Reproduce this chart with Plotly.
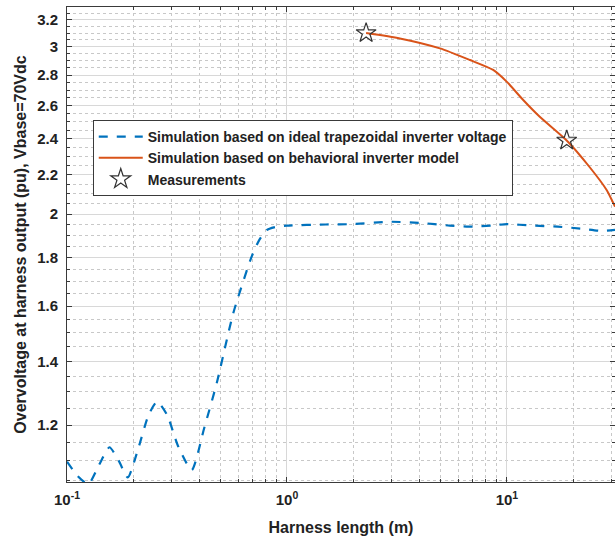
import plotly.graph_objects as go
import numpy as np

# Ideal trapezoidal inverter voltage simulation
ideal_x = [0.1, 0.112, 0.125, 0.14, 0.156, 0.172, 0.189, 0.21, 0.235, 0.257, 0.285, 0.32, 0.369,
           0.42, 0.479, 0.57, 0.691, 0.75, 0.808, 0.9, 1.0, 1.5, 2.0, 2.9, 4.0, 5.5, 7.0, 8.5,
           10.0, 13.0, 17.0, 22.0, 27.0, 31.0]
ideal_y = [1.098, 1.06, 1.04, 1.09, 1.137, 1.10, 1.057, 1.13, 1.23, 1.27, 1.23, 1.14, 1.076,
           1.19, 1.327, 1.573, 1.804, 1.88, 1.924, 1.94, 1.945, 1.95, 1.952, 1.963, 1.958, 1.945,
           1.94, 1.945, 1.952, 1.945, 1.94, 1.93, 1.92, 1.925]

# Behavioral inverter model simulation
behav_x = [2.29, 3.26, 4.96, 6.79, 8.66, 9.97, 11.86, 14.1, 18.7, 23.8, 28.4, 31.0]
behav_y = [3.10, 3.06, 2.987, 2.904, 2.835, 2.756, 2.636, 2.531, 2.39, 2.24, 2.12, 2.036]

# Measurements
meas_x = [2.29, 18.7]
meas_y = [3.10, 2.39]

x_tickvals = [0.1, 1, 10]
x_ticktext = ["10<sup>-1</sup>", "10<sup>0</sup>", "10<sup>1</sup>"]
y_tickvals = [1.2, 1.4, 1.6, 1.8, 2.0, 2.2, 2.4, 2.6, 2.8, 3.0, 3.2]
y_ticktext = ["1.2", "1.4", "1.6", "1.8", "2", "2.2", "2.4", "2.6", "2.8", "3", "3.2"]

x_minor = [m * d for d in (0.1, 1, 10) for m in range(2, 10)]
y_minor = [round(1.05 + 0.05 * i, 2) for i in range(46)]
y_minor = [v for v in y_minor if v not in y_tickvals]

FONT = "Liberation Sans, Arial, sans-serif"
TXT = "#222222"

fig = go.Figure()
fig.add_trace(go.Scatter(
    x=ideal_x, y=ideal_y, mode="lines",
    name="Simulation based on ideal trapezoidal inverter voltage",
    line=dict(color="#0072BD", width=2.2, dash="dash", shape="spline", smoothing=0.6),
))
fig.add_trace(go.Scatter(
    x=behav_x, y=behav_y, mode="lines",
    name="Simulation based on behavioral inverter model",
    line=dict(color="#D95319", width=2, shape="spline", smoothing=0.6),
))
fig.add_trace(go.Scatter(
    x=meas_x, y=meas_y, mode="markers", name="Measurements",
    marker=dict(symbol="star-open", size=15, color="#333333", line=dict(width=1.2, color="#333333")),
))

axis_common = dict(
    showline=True, linecolor="#3a3a3a", linewidth=1, mirror="ticks",
    ticks="inside", ticklen=5, tickcolor="#3a3a3a",
    showgrid=True, gridcolor="#d8d8d8", gridwidth=1,
    zeroline=False, automargin=False,
    tickfont=dict(family=FONT, size=15, color=TXT, weight="bold"),
)

fig.update_xaxes(
    type="log", range=[-1, np.log10(31.0)],
    tickvals=x_tickvals, ticktext=x_ticktext, ticklabelstandoff=4,
    title=dict(text="Harness length (m)", font=dict(family=FONT, size=16, color=TXT, weight="bold"), standoff=14),
    minor=dict(tickvals=x_minor, ticks="inside", ticklen=3, tickcolor="#3a3a3a",
               showgrid=True, gridcolor="#c8c8c8", griddash="dot", gridwidth=1),
    **axis_common,
)
fig.update_yaxes(
    type="log", range=[np.log10(1.0453), np.log10(3.302)],
    tickvals=y_tickvals, ticktext=y_ticktext, ticklabelstandoff=5,
    title=dict(text="Overvoltage at harness output (pu), Vbase=70Vdc",
               font=dict(family=FONT, size=16, color=TXT, weight="bold"), standoff=6),
    minor=dict(tickvals=y_minor, ticks="inside", ticklen=3, tickcolor="#3a3a3a",
               showgrid=True, gridcolor="#c8c8c8", griddash="dot", gridwidth=1),
    **axis_common,
)

fig.update_layout(
    width=615, height=540,
    margin=dict(l=67, r=0, t=7, b=58, autoexpand=False),
    paper_bgcolor="white", plot_bgcolor="white",
    font=dict(family=FONT, size=14, color=TXT, weight="bold"),
    showlegend=True,
    legend=dict(
        x=0.047, y=0.762, xanchor="left", yanchor="top",
        bgcolor="white", bordercolor="#3a3a3a", borderwidth=1,
        font=dict(family=FONT, size=14, color=TXT, weight="bold"),
        itemwidth=44, tracegroupgap=0,
    ),
)

fig.write_html("out.html", config={"displayModeBar": False},
               post_script="document.body.style.margin='0';document.body.style.overflow='hidden';")
